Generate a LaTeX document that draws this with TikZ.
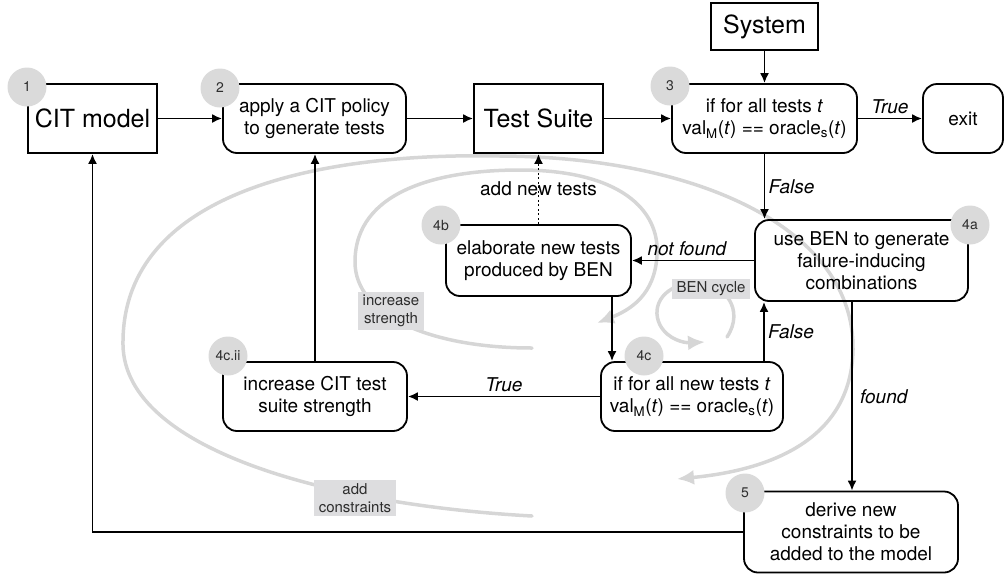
\documentclass[tikz,border=0pt]{standalone}
\usepackage{fontspec}
\setmainfont{TeX Gyre Heros}
\usetikzlibrary{arrows.meta}

\definecolor{spiralgray}{RGB}{214,214,214}
\definecolor{tagfill}{RGB}{221,221,223}
\definecolor{numfill}{RGB}{218,218,218}
\definecolor{inkgray}{RGB}{45,45,45}

\newcommand{\valeq}{val\textsubscript{M}(\textit{t}) == oracle\textsubscript{s}(\textit{t})}

\begin{document}
\begin{tikzpicture}[x=1pt,y=-1pt,font=\fontsize{19}{22}\selectfont,
  sqbox/.style={draw,line width=1.8pt,minimum height=69pt,font=\fontsize{25}{28}\selectfont},
  rbox/.style={draw,line width=1.8pt,rounded corners=14pt,align=center,minimum height=69pt},
  numdot/.style={circle,fill=numfill,minimum size=39pt,inner sep=0pt,text=inkgray,font=\fontsize{14}{16}\selectfont},
  tag/.style={fill=tagfill,text=inkgray,align=center,inner xsep=5pt,inner ysep=3pt,font=\fontsize{15}{18}\selectfont},
  flow/.style={-{Latex[length=10pt,width=9pt]},line width=1.8pt},
  swirl/.style={draw=spiralgray,line width=3.5pt,line cap=round,-{Latex[length=17pt,width=15pt]}},
  lab/.style={font=\fontsize{19}{22}\selectfont\itshape}]
\useasboundingbox (0,0) rectangle (1005,574);
% grey cycles behind the flow
\draw[swirl] (532,516) .. controls (330,505) and (125,450) .. (123,345)
  .. controls (121,200) and (300,152) .. (500,156)
  .. controls (700,157) and (855,230) .. (853,350)
  .. controls (851,440) and (770,470) .. (677,479);
\draw[swirl] (532,348) .. controls (430,348) and (355,315) .. (355,262)
  .. controls (355,190) and (440,170) .. (520,170)
  .. controls (620,170) and (660,210) .. (657,255)
  .. controls (655,295) and (630,310) .. (597,323);
\draw[swirl] (727,337) .. controls (745,310) and (725,283) .. (697,283)
  .. controls (665,283) and (650,305) .. (660,325)
  .. controls (668,340) and (685,343) .. (705,342);
\node[tag] (tagstr) at (391,311) {increase\\strength};
\node[tag] (tagcon) at (355,498) {add\\constraints};
\node[tag] (tagben) at (711,289) {BEN cycle};
% steps
\node[sqbox,minimum width=129pt] (cit) at (92.5,118.5) {CIT model};
\node[rbox,minimum width=183pt] (apply) at (314.5,118.5) {apply a CIT policy\\to generate tests};
\node[sqbox,minimum width=129pt] (suite) at (538.5,118.5) {Test Suite};
\node[rbox,minimum width=185pt] (check) at (764.5,118.5) {if for all tests \textit{t}\\\valeq};
\node[sqbox,minimum width=107pt,minimum height=47pt] (system) at (764.5,26.5) {System};
\node[rbox,minimum width=80pt] (exit) at (963,118.5) {exit};
\node[rbox,minimum width=213pt,minimum height=81pt] (ben) at (861.5,260.5) {use BEN to generate\\failure-inducing\\combinations};
\node[rbox,minimum width=185pt,minimum height=71pt] (elab) at (538.5,260.5) {elaborate new tests\\produced by BEN};
\node[rbox,minimum width=182pt] (check2) at (692,396.5) {if for all new tests \textit{t}\\\valeq};
\node[rbox,minimum width=184pt] (incr) at (315,396.5) {increase CIT test\\suite strength};
\node[rbox,minimum width=214pt,minimum height=81pt] (derive) at (851,532) {derive new\\constraints to be\\added to the model};
% connectors
\draw[flow] (cit) -- (apply);
\draw[flow] (apply) -- (suite);
\draw[flow] (suite) -- (check);
\draw[flow] (system) -- (check);
\draw[flow] (check) -- (exit) node[midway,above,lab] {True};
\draw[flow] (check.south) -- (check.south |- ben.north) node[midway,right,lab] {False};
\draw[flow] (ben.west) -- (elab.east) node[pos=0.55,above,lab] {not found};
\draw[flow,dash pattern=on 2pt off 2.5pt] (elab.north) -- (suite.south) node[midway] {add new tests};
\draw[flow] ([xshift=73.5pt]elab.south) -- ([xshift=-80pt]check2.north);
\draw[flow] ([xshift=72pt]check2.north) -- ([xshift=-97.5pt]ben.south) node[midway,right,lab] {False};
\draw[flow] (check2) -- (incr) node[midway,above,lab] {True};
\draw[flow] (incr.north) -- (incr.north |- apply.south);
\draw[flow] ([xshift=-9.5pt]ben.south) -- ([xshift=1pt]derive.north) node[midway,right,xshift=4pt,lab] {found};
\draw[flow] (derive.west) -| (cit.south);
% step numbers
\node[numdot] (n1) at (27,87) {1};
\node[numdot] (n2) at (220,88) {2};
\node[numdot] (n3) at (670,86) {3};
\node[numdot] (n4a) at (970,225) {4a};
\node[numdot] (n4b) at (441,225) {4b};
\node[numdot] (n4c) at (644,356) {4c};
\node[numdot] (n4cii) at (228,356) {4c.ii};
\node[numdot] (n5) at (745,493) {5};
\end{tikzpicture}
\end{document}
